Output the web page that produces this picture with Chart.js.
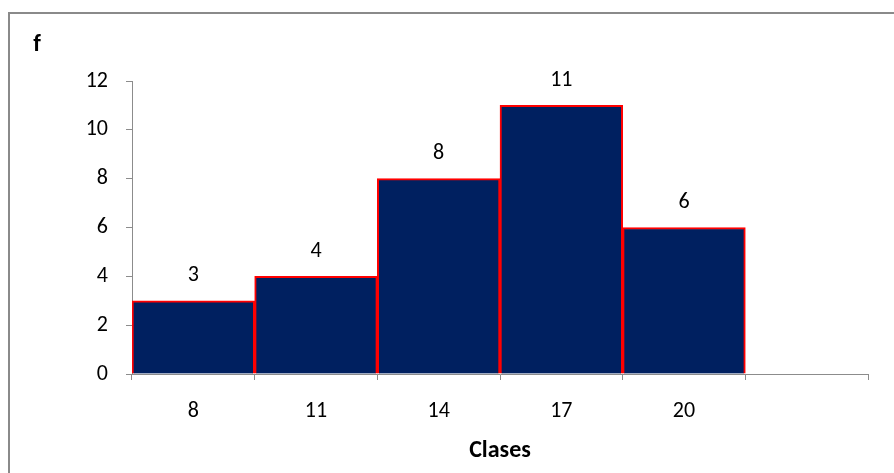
<!DOCTYPE html>
<html>
<head>
<meta charset="utf-8">
<script src="https://cdn.jsdelivr.net/npm/chart.js@4/dist/chart.umd.min.js"></script>
<style>
  html, body { margin: 0; padding: 0; background: #fff; overflow: hidden; }
  canvas { display: block; }
</style>
</head>
<body>
<canvas id="hist" width="894" height="473"></canvas>
<script>
// Class marks and their frequencies; the last slot is left empty
const classes = ['8', '11', '14', '17', '20', ''];
const frequencies = [3, 4, 8, 11, 6, null];
const yTicks = [0, 2, 4, 6, 8, 10, 12];

const FONT = 'Carlito, Calibri, Lato, "Open Sans", sans-serif';
const AXIS_GREY = '#8c8c8c';
const TEXT_SIZE = 22;
const BOLD_SIZE = 24;

// Frame around the figure, the "f" heading and the value labels over each bar
const decorations = {
  id: 'decorations',
  beforeDraw(chart) {
    const ctx = chart.ctx;
    ctx.save();
    ctx.fillStyle = '#ffffff';
    ctx.fillRect(0, 0, chart.width, chart.height);
    ctx.strokeStyle = '#8a8a8a';
    ctx.lineWidth = 2;
    ctx.beginPath();
    ctx.moveTo(9, chart.height + 2);
    ctx.lineTo(9, 13);
    ctx.lineTo(chart.width + 2, 13);
    ctx.stroke();
    ctx.restore();
  },
  afterDatasetsDraw(chart) {
    const ctx = chart.ctx;
    ctx.save();
    ctx.fillStyle = '#000';
    ctx.textAlign = 'center';
    ctx.textBaseline = 'middle';
    ctx.font = 'bold ' + BOLD_SIZE + 'px ' + FONT;
    ctx.fillText('f', 37, 45);
    ctx.font = TEXT_SIZE + 'px ' + FONT;
    const meta = chart.getDatasetMeta(0);
    meta.data.forEach((bar, i) => {
      const v = frequencies[i];
      if (v === null || v === undefined) return;
      ctx.fillText(String(v), bar.x, bar.y - 25);
    });
    ctx.restore();
  }
};

new Chart(document.getElementById('hist'), {
  type: 'bar',
  data: {
    labels: classes,
    datasets: [{
      data: frequencies,
      backgroundColor: '#002060',
      borderColor: '#ff0000',
      borderWidth: 2,
      barPercentage: 1.0,
      categoryPercentage: 1.0
    }]
  },
  options: {
    responsive: false,
    animation: false,
    devicePixelRatio: 1,
    layout: { padding: { left: 40, right: 26, top: 81, bottom: 8 } },
    plugins: {
      legend: { display: false },
      tooltip: { enabled: false }
    },
    scales: {
      x: {
        offset: true,
        grid: {
          offset: true,
          drawOnChartArea: false,
          drawTicks: true,
          tickLength: 6,
          color: AXIS_GREY
        },
        border: { display: true, color: AXIS_GREY, width: 1 },
        ticks: {
          color: '#000',
          font: { family: FONT, size: TEXT_SIZE },
          padding: 18,
          maxRotation: 0
        },
        title: {
          display: true,
          text: 'Clases',
          color: '#000',
          font: { family: FONT, size: BOLD_SIZE, weight: 'bold' },
          padding: { top: 0, bottom: 0 }
        },
        afterFit(scale) { scale.height = 473 - 8 - 374; }
      },
      y: {
        min: 0,
        max: 12,
        afterBuildTicks(scale) { scale.ticks = yTicks.map(v => ({ value: v })); },
        grid: {
          drawOnChartArea: false,
          drawTicks: true,
          tickLength: 6,
          color: AXIS_GREY
        },
        border: { display: true, color: AXIS_GREY, width: 1 },
        ticks: {
          color: '#000',
          font: { family: FONT, size: TEXT_SIZE },
          padding: 18
        },
        afterFit(scale) { scale.width = 132 - 40; }
      }
    }
  },
  plugins: [decorations]
});
</script>
</body>
</html>
